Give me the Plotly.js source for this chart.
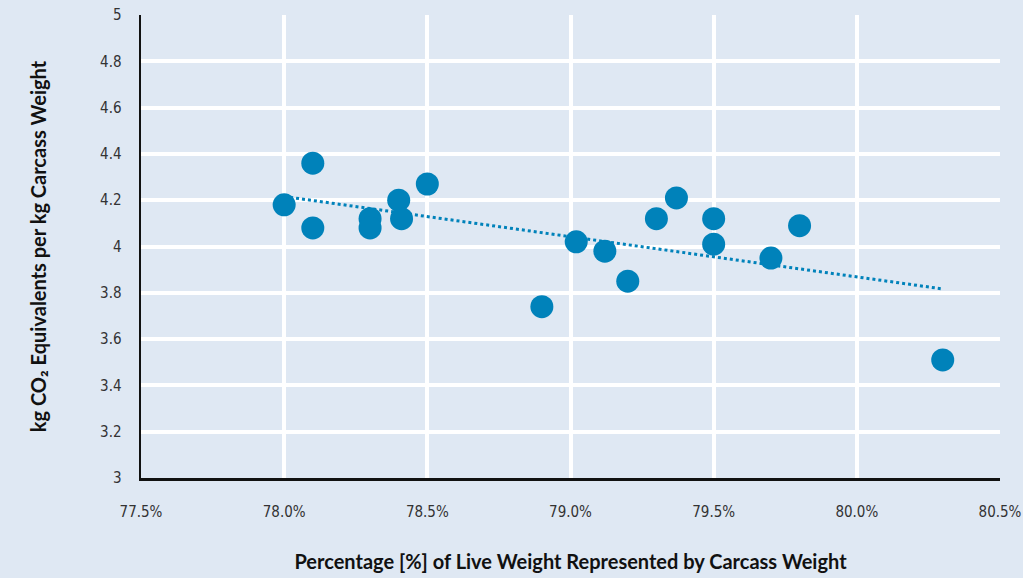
<!DOCTYPE html>
<html>
<head>
<meta charset="utf-8">
<script src="https://cdn.plot.ly/plotly-3.0.1.min.js"></script>
<style>html,body{margin:0;padding:0;background:#dfe8f3;}#chart{width:1023px;height:578px;}</style>
</head>
<body>
<div id="chart"></div>
<script>
// Percentage of live weight represented by carcass weight
var carcassPct = [78.0, 78.1, 78.1, 78.3, 78.3, 78.4, 78.41, 78.5, 78.9, 79.02, 79.12, 79.2, 79.3, 79.37, 79.5, 79.5, 79.7, 79.8, 80.3];
// kg CO2 equivalents per kg carcass weight
var co2PerKg = [4.18, 4.36, 4.08, 4.12, 4.08, 4.20, 4.12, 4.27, 3.74, 4.02, 3.98, 3.85, 4.12, 4.21, 4.12, 4.01, 3.95, 4.09, 3.51];
var xTickVals = [77.5, 78.0, 78.5, 79.0, 79.5, 80.0, 80.5];
var xTickText = ['77.5%', '78.0%', '78.5%', '79.0%', '79.5%', '80.0%', '80.5%'];
var yTickVals = [3, 3.2, 3.4, 3.6, 3.8, 4, 4.2, 4.4, 4.6, 4.8, 5];
var yTickText = ['3', '3.2', '3.4', '3.6', '3.8', '4', '4.2', '4.4', '4.6', '4.8', '5'];

// linear least-squares trendline
var n = carcassPct.length, mx = 0, my = 0;
for (var i = 0; i < n; i++) { mx += carcassPct[i]; my += co2PerKg[i]; }
mx /= n; my /= n;
var sxy = 0, sxx = 0;
for (var i = 0; i < n; i++) { sxy += (carcassPct[i]-mx)*(co2PerKg[i]-my); sxx += (carcassPct[i]-mx)*(carcassPct[i]-mx); }
var slope = sxy / sxx, icpt = my - slope * mx;
var xMin = Math.min.apply(null, carcassPct), xMax = Math.max.apply(null, carcassPct);
var trendX = [xMin, xMax], trendY = [icpt + slope * xMin, icpt + slope * xMax];

var blue = '#0082ba';
var data = [
  {x: trendX, y: trendY, mode: 'lines', type: 'scatter', line: {color: blue, width: 3, dash: 'dot'}, hoverinfo: 'skip'},
  {x: carcassPct, y: co2PerKg, mode: 'markers', type: 'scatter', marker: {color: blue, size: 23}}
];
var tickFont = {family: '"Liberation Sans Narrow", "Arial Narrow", "DejaVu Sans Condensed", sans-serif', size: 15, color: '#333'};
var titleFont = {family: 'Lato, sans-serif', size: 20, color: '#111', weight: 'bold'};
var layout = {
  width: 1023, height: 578,
  margin: {l: 141, r: 23, t: 15, b: 100},
  paper_bgcolor: '#dfe8f3', plot_bgcolor: '#dfe8f3',
  showlegend: false,
  xaxis: {
    range: [77.5, 80.5], tickvals: xTickVals, ticktext: xTickText, tickfont: tickFont,
    showgrid: true, gridcolor: '#ffffff', gridwidth: 4, zeroline: false,
    showline: true, linecolor: '#111', linewidth: 2.5, ticks: 'outside', ticklen: 18, tickcolor: 'rgba(0,0,0,0)', automargin: false,
    title: {text: 'Percentage [%] of Live Weight Represented by Carcass Weight', font: titleFont, standoff: 36}
  },
  yaxis: {
    range: [3, 5], tickvals: yTickVals, ticktext: yTickText, tickfont: tickFont,
    showgrid: true, gridcolor: '#ffffff', gridwidth: 4, zeroline: false,
    showline: true, linecolor: '#111', linewidth: 2.5, ticks: 'outside', ticklen: 14, tickcolor: 'rgba(0,0,0,0)', automargin: false,
    title: {text: 'kg CO₂ Equivalents per kg Carcass Weight', font: titleFont, standoff: 48}
  }
};
Plotly.newPlot('chart', data, layout, {displayModeBar: false, staticPlot: true});
</script>
</body>
</html>
